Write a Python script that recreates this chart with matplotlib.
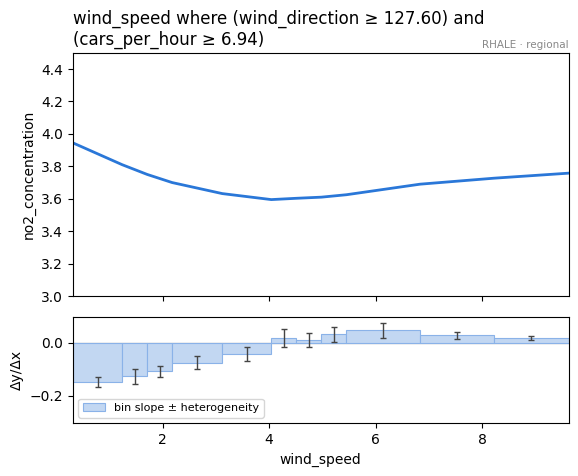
import matplotlib
matplotlib.use("Agg")
import matplotlib.pyplot as plt
import numpy as np

# Data
bin_edges = [0.317, 1.244, 1.713, 2.18, 3.12, 4.04, 4.51, 4.98, 5.45, 6.83, 8.22, 9.62]
bin_slopes = [-0.149, -0.127, -0.108, -0.076, -0.042, 0.019, 0.011, 0.032, 0.047, 0.028, 0.019]
bin_std = [0.020, 0.028, 0.021, 0.025, 0.028, 0.034, 0.027, 0.030, 0.028, 0.013, 0.008]
curve_x = [0.317, 1.244, 1.713, 2.18, 3.12, 4.04, 4.51, 4.98, 5.45, 6.83, 8.22, 9.62]
curve_y = [3.945, 3.81, 3.75, 3.70, 3.632, 3.595, 3.603, 3.61, 3.625, 3.69, 3.727, 3.758]

title = "wind_speed where (wind_direction \u2265 127.60) and\n(cars_per_hour \u2265 6.94)"

fig = plt.figure(figsize=(5.78, 4.76), dpi=100)
ax1 = fig.add_axes([0.126, 0.378, 0.858, 0.511])
ax2 = fig.add_axes([0.126, 0.111, 0.858, 0.224], sharex=ax1)

ax1.plot(curve_x, curve_y, color="#2a77d8", lw=2)
ax1.set_ylim(3.0, 4.5)
ax1.set_xlim(0.317, 9.62)
ax1.set_ylabel("no2_concentration")
ax1.tick_params(labelbottom=False)
ax1.set_title(title, loc="left", fontsize=12)
ax1.text(1.0, 1.01, "RHALE \u00b7 regional", transform=ax1.transAxes,
         ha="right", va="bottom", fontsize=7.5, color="#888888")

edges = np.array(bin_edges)
widths = np.diff(edges)
centers = edges[:-1] + widths / 2
ax2.bar(edges[:-1], bin_slopes, width=widths, align="edge",
        color="#c2d7f2", edgecolor="#8ab2e8", linewidth=0.8,
        label="bin slope \u00b1 heterogeneity")
ax2.errorbar(centers, bin_slopes, yerr=bin_std, fmt="none",
             ecolor="#444444", elinewidth=1, capsize=2.5, capthick=1)
ax2.axhline(0, color="#bbbbbb", lw=1, zorder=0.5)
ax2.set_ylim(-0.305, 0.10)
ax2.set_xlabel("wind_speed")
ax2.set_ylabel("\u0394y/\u0394x")
ax2.legend(loc="lower left", fontsize=8)

fig.savefig("out.png", dpi=100)
